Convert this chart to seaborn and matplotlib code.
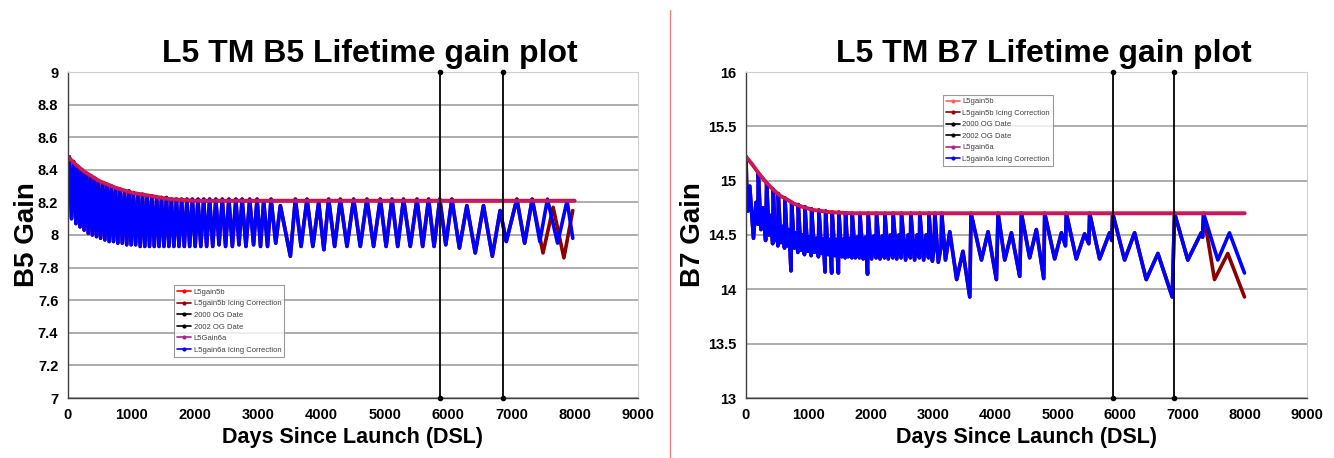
import numpy as np
import pandas as pd
import seaborn as sns
import matplotlib
matplotlib.use("Agg")
import matplotlib.pyplot as plt
from matplotlib.lines import Line2D
from matplotlib.ticker import FuncFormatter, MultipleLocator

# ---- data ----
og_dates = [5880, 6870]          # 2000 OG Date, 2002 OG Date

# B5: nominal gain (L5gain5b / L5Gain6a)
b5_nom_days = [0, 100, 250, 500, 750, 1000, 1300, 1600, 2000, 8000]
b5_nom_gain = [8.48, 8.44, 8.39, 8.33, 8.29, 8.26, 8.24, 8.22, 8.21, 8.21]

# B5: L5gain6a icing correction (turning points)
b5_ice_days = [0, 20, 55, 90, 125, 155, 190, 220, 255, 285, 320, 350, 385, 415, 450, 480,
               515, 548, 582, 616, 650, 684, 718, 752, 787, 822, 857, 892, 927, 962, 997,
               1032, 1068, 1104, 1140, 1176, 1213, 1250, 1287, 1324, 1362, 1400, 1438, 1476,
               1515, 1554, 1593, 1632, 1672, 1712, 1753, 1794, 1836, 1878, 1921, 1964, 2008,
               2052, 2097, 2142, 2189, 2236, 2285, 2334, 2385, 2436, 2488, 2540, 2595, 2650,
               2700, 2749, 2810, 2869, 2930, 2985, 3040, 3090, 3150, 3206, 3280, 3353, 3511,
               3590, 3680, 3774, 3866, 3958, 4040, 4115, 4210, 4300, 4405, 4510, 4615, 4720,
               4825, 4931, 5023, 5115, 5206, 5298, 5404, 5510, 5600, 5693, 5780, 5870, 5965,
               6061, 6180, 6298, 6430, 6560, 6700, 6823, 6920, 7087, 7210, 7330, 7450, 7570,
               7730, 7880, 7970]
b5_ice_gain = [8.25, 8.48, 8.10, 8.45, 8.07, 8.42, 8.05, 8.40, 8.03, 8.38, 8.01, 8.36, 8.00,
               8.35, 7.99, 8.33, 7.98, 8.32, 7.97, 8.31, 7.96, 8.30, 7.96, 8.29, 7.95, 8.28,
               7.95, 8.27, 7.94, 8.27, 7.94, 8.26, 7.94, 8.25, 7.93, 8.25, 7.93, 8.24, 7.93,
               8.24, 7.93, 8.23, 7.93, 8.23, 7.93, 8.23, 7.93, 8.22, 7.93, 8.22, 7.93, 8.22,
               7.93, 8.22, 7.93, 8.22, 7.93, 8.22, 7.93, 8.22, 7.93, 8.22, 7.93, 8.22, 7.94,
               8.22, 7.93, 8.22, 7.93, 8.22, 7.94, 8.22, 7.93, 8.22, 7.94, 8.22, 7.93, 8.21,
               7.93, 8.22, 7.95, 8.18, 7.87, 8.22, 7.93, 8.22, 7.93, 8.20, 7.91, 8.22, 7.93,
               8.22, 7.93, 8.22, 7.93, 8.22, 7.93, 8.22, 7.93, 8.22, 7.93, 8.22, 7.93, 8.22,
               7.93, 8.22, 7.93, 8.22, 7.94, 8.22, 7.92, 8.18, 7.89, 8.18, 7.87, 8.15, 7.96,
               8.22, 7.95, 8.22, 7.96, 8.22, 7.95, 8.21, 7.98]
# B5: L5gain5b icing correction departs from the 6a curve after day 7330
b5_5b_tail_days = [7500, 7660, 7830, 7970]
b5_5b_tail_gain = [7.89, 8.17, 7.86, 8.15]

# B7: nominal gain
b7_nom_days = [0, 100, 200, 330, 450, 550, 650, 760, 900, 1080, 1350, 1700, 8000]
b7_nom_gain = [15.22, 15.15, 15.07, 14.98, 14.91, 14.86, 14.83, 14.79, 14.76, 14.73, 14.71,
               14.70, 14.70]

# B7: L5gain6a icing correction (turning points)
b7_ice_days = [0, 10, 30, 60, 120, 160, 190, 198, 240, 270, 315, 331, 370, 395, 428, 438,
               470, 492, 512, 518, 560, 590, 618, 625, 665, 690, 722, 732, 775, 800, 832,
               839, 880, 905, 938, 946, 990, 1015, 1045, 1052, 1100, 1130, 1162, 1170, 1215,
               1240, 1268, 1277, 1320, 1345, 1374, 1383, 1425, 1452, 1482, 1490, 1535, 1560,
               1590, 1597, 1640, 1668, 1697, 1704, 1755, 1785, 1820, 1827, 1880, 1915, 1950,
               1960, 2015, 2050, 2087, 2094, 2150, 2185, 2221, 2228, 2283, 2318, 2354, 2361,
               2418, 2452, 2488, 2495, 2560, 2600, 2637, 2644, 2705, 2745, 2781, 2788, 2850,
               2890, 2928, 2935, 2990, 3020, 3029, 3085, 3130, 3140, 3200, 3269, 3380, 3480,
               3590, 3610, 3777, 3883, 4017, 4044, 4151, 4258, 4391, 4418, 4551, 4658, 4776,
               4792, 4952, 5060, 5125, 5139, 5299, 5432, 5500, 5513, 5673, 5833, 5868, 5882,
               6074, 6234, 6421, 6608, 6838, 6875, 7088, 7303, 7325, 7340, 7569, 7756, 7997]
b7_ice_gain = [15.22, 14.95, 14.72, 14.95, 14.47, 14.80, 14.60, 15.07, 14.55, 14.75, 14.45,
               14.98, 14.50, 14.68, 14.42, 14.92, 14.45, 14.60, 14.40, 14.88, 14.43, 14.58,
               14.38, 14.84, 14.40, 14.55, 14.17, 14.80, 14.38, 14.52, 14.34, 14.78, 14.36,
               14.50, 14.32, 14.76, 14.35, 14.48, 14.31, 14.74, 14.34, 14.47, 14.30, 14.73,
               14.33, 14.46, 14.16, 14.72, 14.32, 14.46, 14.15, 14.71, 14.31, 14.46, 14.15,
               14.71, 14.30, 14.46, 14.29, 14.70, 14.30, 14.47, 14.29, 14.70, 14.29, 14.48,
               14.29, 14.70, 14.28, 14.48, 14.14, 14.70, 14.28, 14.49, 14.29, 14.70, 14.28,
               14.49, 14.29, 14.70, 14.28, 14.50, 14.29, 14.70, 14.28, 14.50, 14.29, 14.70,
               14.27, 14.50, 14.29, 14.70, 14.27, 14.50, 14.29, 14.70, 14.27, 14.50, 14.29,
               14.70, 14.26, 14.40, 14.70, 14.25, 14.40, 14.70, 14.27, 14.53, 14.09, 14.35,
               13.93, 14.70, 14.27, 14.53, 14.09, 14.70, 14.27, 14.52, 14.12, 14.70, 14.29,
               14.55, 14.10, 14.70, 14.28, 14.52, 14.40, 14.70, 14.28, 14.51, 14.42, 14.70,
               14.28, 14.52, 14.45, 14.70, 14.27, 14.52, 14.09, 14.33, 13.93, 14.70, 14.27,
               14.52, 14.48, 14.70, 14.27, 14.52, 14.15]
# B7: L5gain5b icing correction departs after day 7340
b7_5b_tail_days = [7516, 7729, 7997]
b7_5b_tail_gain = [14.09, 14.33, 13.93]

legend_b5 = ["L5gain5b", "L5gain5b Icing Correction", "2000 OG Date", "2002 OG Date",
             "L5Gain6a", "L5gain6a Icing Correction"]
legend_b7 = ["L5gain5b", "L5gain5b Icing Correction", "2000 OG Date", "2002 OG Date",
             "L5gain6a", "L5gain6a Icing Correction"]

RED = "#FF0000"
DARKRED = "#8B0000"
MAGENTA = "#B0208C"
BLUE = "#0000FF"

sns.set_style("white")
plt.rcParams['font.family'] = ['Liberation Sans', 'DejaVu Sans']
plt.rcParams['text.color'] = 'black'
plt.rcParams['axes.labelcolor'] = 'black'
plt.rcParams['xtick.color'] = 'black'
plt.rcParams['ytick.color'] = 'black'

fig = plt.figure(figsize=(13.34, 4.58), dpi=100)
ax1 = fig.add_axes([68 / 1334, 1 - 398 / 458, 570 / 1334, 326 / 458])
ax2 = fig.add_axes([746 / 1334, 1 - 398 / 458, 561 / 1334, 326 / 458])


def split_tail(days, gain, cut, tail_d, tail_g):
    keep = [i for i, d in enumerate(days) if d <= cut]
    return [days[i] for i in keep] + tail_d, [gain[i] for i in keep] + tail_g


def draw_panel(ax, nom_d, nom_g, ice_d, ice_g, tail_cut, tail_d, tail_g, ylim, ystep,
               title, ylabel, labels, leg_anchor, leg_colors, ylab_x):
    d5b, g5b = split_tail(ice_d, ice_g, tail_cut, tail_d, tail_g)
    sns.lineplot(x=d5b, y=g5b, ax=ax, color=DARKRED, lw=2.6, estimator=None, sort=False)
    sns.lineplot(x=ice_d, y=ice_g, ax=ax, color=BLUE, lw=2.6, estimator=None, sort=False)
    sns.lineplot(x=nom_d, y=nom_g, ax=ax, color=RED, lw=2.8, estimator=None, sort=False)
    sns.lineplot(x=nom_d, y=nom_g, ax=ax, color=MAGENTA, lw=1.6, estimator=None, sort=False)
    for d in og_dates:
        ax.plot([d, d], ylim, color="black", lw=1.3, marker="o", ms=3, clip_on=False, zorder=5)

    ax.set_xlim(0, 9000)
    ax.set_ylim(*ylim)
    ax.xaxis.set_major_locator(MultipleLocator(1000))
    ax.yaxis.set_major_locator(MultipleLocator(ystep))
    ax.yaxis.set_major_formatter(FuncFormatter(lambda v, p: f"{v:g}"))
    ax.grid(axis="y", color="#A0A0A0", lw=1.2)
    ax.set_axisbelow(True)
    for s in ["top", "right"]:
        ax.spines[s].set_color("#D0D0D0")
    for s in ["left", "bottom"]:
        ax.spines[s].set_color("#404040")
        ax.spines[s].set_linewidth(1.0)
    ax.tick_params(axis="both", direction="out", length=4, width=1, color="#404040",
                   labelsize=10.5, pad=3)
    for t in ax.get_xticklabels() + ax.get_yticklabels():
        t.set_fontweight("bold")
    ax.set_title(title, fontsize=23, fontweight="bold", pad=7, x=0.53)
    ax.set_xlabel("Days Since Launch (DSL)", fontsize=15.5, fontweight="bold", labelpad=4)
    ax.set_ylabel(ylabel, fontsize=20, fontweight="bold")
    ax.yaxis.set_label_coords(ylab_x, 0.5)

    handles = [Line2D([], [], color=c, lw=1.2, marker="o", ms=2) for c in leg_colors]
    leg = ax.legend(handles, labels, loc="lower left", bbox_to_anchor=leg_anchor,
                    fontsize=5.5, frameon=True, fancybox=False, handlelength=1.8,
                    handletextpad=0.3, borderpad=0.4, labelspacing=0.55)
    leg.get_frame().set_edgecolor("#808080")
    leg.get_frame().set_linewidth(0.8)
    for t in leg.get_texts():
        t.set_color("#404040")


draw_panel(ax1, b5_nom_days, b5_nom_gain, b5_ice_days, b5_ice_gain, 7330,
           b5_5b_tail_days, b5_5b_tail_gain, (7, 9), 0.2,
           "L5 TM B5 Lifetime gain plot", "B5 Gain", legend_b5, (0.18, 0.115),
           [RED, DARKRED, "black", "black", MAGENTA, BLUE], -0.05)
draw_panel(ax2, b7_nom_days, b7_nom_gain, b7_ice_days, b7_ice_gain, 7340,
           b7_5b_tail_days, b7_5b_tail_gain, (13, 16), 0.5,
           "L5 TM B7 Lifetime gain plot", "B7 Gain", legend_b7, (0.345, 0.70),
           ["#FF6060", DARKRED, "black", "black", MAGENTA, BLUE], -0.072)

# thin divider between the two slides
fig.add_artist(Line2D([670 / 1334, 670 / 1334], [0, 1 - 10 / 458], color="#F08080", lw=1))

fig.savefig("out.png", dpi=100)
